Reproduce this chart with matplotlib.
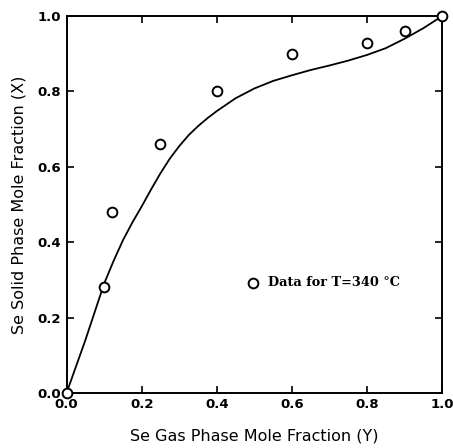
import numpy as np
import matplotlib as mpl
mpl.use('Agg')
import matplotlib.pyplot as plt

# measured points
data_y = [0.0, 0.10, 0.12, 0.25, 0.40, 0.60, 0.80, 0.90, 1.0]
data_x = [0.0, 0.28, 0.48, 0.66, 0.80, 0.90, 0.93, 0.96, 1.0]

# model curve
fit_y = [0.0, 0.025, 0.05, 0.075, 0.10, 0.125, 0.15, 0.175, 0.20, 0.225, 0.25,
         0.275, 0.30, 0.325, 0.35, 0.375, 0.40, 0.45, 0.50,
         0.55, 0.60, 0.65, 0.70, 0.75, 0.80, 0.85, 0.90, 0.95, 1.0]
fit_x = [0.0, 0.07, 0.14, 0.215, 0.29, 0.35, 0.405, 0.452, 0.495, 0.54, 0.583,
         0.622, 0.655, 0.684, 0.708, 0.729, 0.748, 0.782, 0.808,
         0.828, 0.843, 0.857, 0.869, 0.882, 0.897, 0.915, 0.94, 0.968, 1.0]

plt.rcParams['font.family'] = ['DejaVu Sans']

fig = plt.figure(figsize=(4.53, 4.48), dpi=100)
ax = fig.add_axes([0.147, 0.123, 0.829, 0.841])

ax.plot(fit_y, fit_x, color='black', lw=1.3)
ax.plot(data_y, data_x, linestyle='none', marker='o', ms=7, mfc='white',
        mec='black', mew=1.4, clip_on=False, zorder=3)

# legend drawn by hand
ax.plot([0.497], [0.293], linestyle='none', marker='o', ms=7, mfc='white',
        mec='black', mew=1.4)
ax.text(0.535, 0.293, 'Data for T=340 \u00b0C', fontsize=9.3, fontweight='bold',
        family='DejaVu Serif', va='center', ha='left')

ax.set_xlim(0, 1)
ax.set_ylim(0, 1)
ticks = [0.0, 0.2, 0.4, 0.6, 0.8, 1.0]
ax.set_xticks(ticks)
ax.set_yticks(ticks)
ax.set_xticklabels(['%.1f' % t for t in ticks], fontweight='bold')
ax.set_yticklabels(['%.1f' % t for t in ticks], fontweight='bold')
ax.tick_params(direction='in', top=True, right=True, length=5, width=1.2,
               labelsize=9.5, pad=4)
for s in ax.spines.values():
    s.set_linewidth(1.4)

ax.set_xlabel('Se Gas Phase Mole Fraction (Y)', fontsize=11.5, labelpad=12)
ax.set_ylabel('Se Solid Phase Mole Fraction (X)', fontsize=11.5, labelpad=8)

plt.savefig('out.png', dpi=100)
